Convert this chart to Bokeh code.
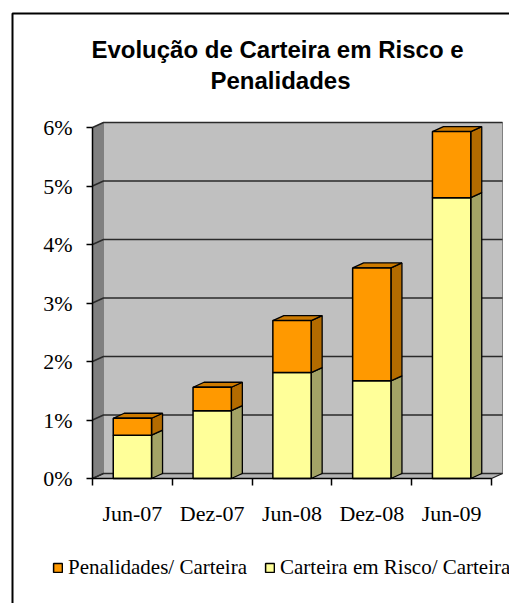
from bokeh.plotting import figure
from bokeh.models import Range1d, FixedTicker, Legend, LegendItem, Label, LinearAxis
from bokeh.embed import file_html
from bokeh.resources import INLINE

# ---------------- data ----------------
PERIODS = ["Jun-07", "Dez-07", "Jun-08", "Dez-08", "Jun-09"]
RISCO = [0.74, 1.16, 1.81, 1.67, 4.80]      # Carteira em Risco / Carteira (%)
PENAL = [0.29, 0.40, 0.89, 1.93, 1.13]      # Penalidades / Carteira (%)
Y_TICKS = [0, 1, 2, 3, 4, 5, 6]
TITLE_LINES = ["Evolução de Carteira em Risco e", "Penalidades"]
LEGEND_LABELS = ["Penalidades/ Carteira", "Carteira em Risco/ Carteira"]

# ---------------- geometry (page pixels) ----------------
W, H = 509, 603
AX_X0, AX_Y0 = 92, 478          # px of the origin (x=0, y=0%)
X_UNIT = 79.8                   # px per category
Y_UNIT = 58.5                   # px per 1 %
DX = 11 / X_UNIT                # 3-D depth, horizontal
DY = 5 / Y_UNIT                 # 3-D depth, vertical
N = len(PERIODS)
BAR_W = 0.48
YMAX = max(Y_TICKS)
SERIF = "Liberation Serif"


def px_x(px):
    return (px - AX_X0) / X_UNIT


def px_y(py):
    return (AX_Y0 - py) / Y_UNIT


p = figure(width=W, height=H, output_backend="svg", toolbar_location=None,
           x_range=Range1d(px_x(0), px_x(W)), y_range=Range1d(px_y(H), px_y(0)),
           x_axis_location=None, y_axis_location=None,
           min_border=0, min_border_left=0, min_border_right=0,
           min_border_top=0, min_border_bottom=0)
p.outline_line_color = None
p.grid.visible = False
p.background_fill_color = "white"
p.border_fill_color = "white"

# ---------------- chart border ----------------
p.line([px_x(12), px_x(12), px_x(W + 20)], [px_y(H + 20), px_y(13), px_y(13)],
       line_color="black", line_width=2)

# ---------------- walls ----------------
p.patch([0, 0, DX, DX], [0, YMAX, YMAX + DY, DY], fill_color="#808080", line_color=None)
p.patch([DX, DX, N + DX, N + DX], [DY, YMAX + DY, YMAX + DY, DY],
        fill_color="#c0c0c0", line_color="#808080", line_width=1)
p.patch([0, N, N + DX, DX], [0, 0, DY, DY], fill_color="#b4b4b4",
        line_color="#202020", line_width=1.2)

gx, gy = [], []
for t in Y_TICKS:
    gx.append([0, DX, N + DX])
    gy.append([t, t + DY, t + DY])
p.multi_line(gx, gy, line_color="#2a2a2a", line_width=1.5)

# ---------------- bars ----------------
bottoms_r = [0.0] * N
tops_r = RISCO[:]
bottoms_p = RISCO[:]
tops_p = [r + q for r, q in zip(RISCO, PENAL)]
centers = [i + 0.5 for i in range(N)]
lefts = [c - BAR_W / 2 for c in centers]
rights = [c + BAR_W / 2 for c in centers]


def side_faces(b, t):
    xs = [[r, r + DX, r + DX, r] for r in rights]
    ys = [[bb, bb + DY, tt + DY, tt] for bb, tt in zip(b, t)]
    return xs, ys


sx, sy = side_faces(bottoms_r, tops_r)
p.patches(sx, sy, fill_color="#a3a366", line_color="black", line_width=1.3)
sx, sy = side_faces(bottoms_p, tops_p)
p.patches(sx, sy, fill_color="#b36b00", line_color="black", line_width=1.3)
tx = [[l, r, r + DX, l + DX] for l, r in zip(lefts, rights)]
ty = [[t, t, t + DY, t + DY] for t in tops_p]
p.patches(tx, ty, fill_color="#cc7a00", line_color="black", line_width=1.3)

r_risk = p.quad(left=lefts, right=rights, bottom=bottoms_r, top=tops_r,
                fill_color="#ffff99", line_color="black", line_width=1.5)
r_pen = p.quad(left=lefts, right=rights, bottom=bottoms_p, top=tops_p,
               fill_color="#ff9900", line_color="black", line_width=1.5)

# ---------------- axes ----------------
xa = LinearAxis(fixed_location=0)
xa.ticker = FixedTicker(ticks=centers, minor_ticks=list(range(N + 1)))
xa.major_label_overrides = {c: lab for c, lab in zip(centers, PERIODS)}
xa.major_tick_in = 0
xa.major_tick_out = 0
xa.minor_tick_in = 0
xa.minor_tick_out = 7
xa.minor_tick_line_color = "black"
xa.minor_tick_line_width = 1.5
xa.axis_line_width = 1.5
xa.axis_line_color = "black"
xa.bounds = (0, N)
xa.major_label_text_font = SERIF
xa.major_label_text_font_size = "22px"
xa.major_label_text_color = "black"
xa.major_label_standoff = 15
p.add_layout(xa, "below")

ya = LinearAxis(fixed_location=0)
ya.ticker = FixedTicker(ticks=Y_TICKS)
ya.major_label_overrides = {t: f"{t}%" for t in Y_TICKS}
ya.major_tick_in = 0
ya.major_tick_out = 6
ya.major_tick_line_width = 1.5
ya.major_tick_line_color = "black"
ya.minor_tick_line_color = None
ya.axis_line_width = 1.5
ya.axis_line_color = "black"
ya.bounds = (0, YMAX)
ya.major_label_text_font = SERIF
ya.major_label_text_font_size = "22px"
ya.major_label_text_color = "black"
ya.major_label_standoff = 14
p.add_layout(ya, "left")

# ---------------- title ----------------
for line, cx, base in zip(TITLE_LINES, [277, 280], [49, 80]):
    p.add_layout(Label(x=px_x(cx), y=px_y(base), text=line, text_align="center",
                       text_baseline="alphabetic", text_font="Liberation Sans",
                       text_font_style="bold", text_font_size="24px", text_color="black"))

# ---------------- legend ----------------
legend = Legend(items=[LegendItem(label=LEGEND_LABELS[0], renderers=[r_pen]),
                       LegendItem(label=LEGEND_LABELS[1], renderers=[r_risk])],
                orientation="horizontal", location=(52, 23),
                padding=0, margin=0, spacing=17, label_standoff=5,
                glyph_width=11, glyph_height=11,
                border_line_color=None, background_fill_alpha=0,
                label_text_font=SERIF, label_text_font_size="21px",
                label_text_color="black")
p.add_layout(legend, "center")

open("out.html", "w").write(file_html(p, INLINE))
